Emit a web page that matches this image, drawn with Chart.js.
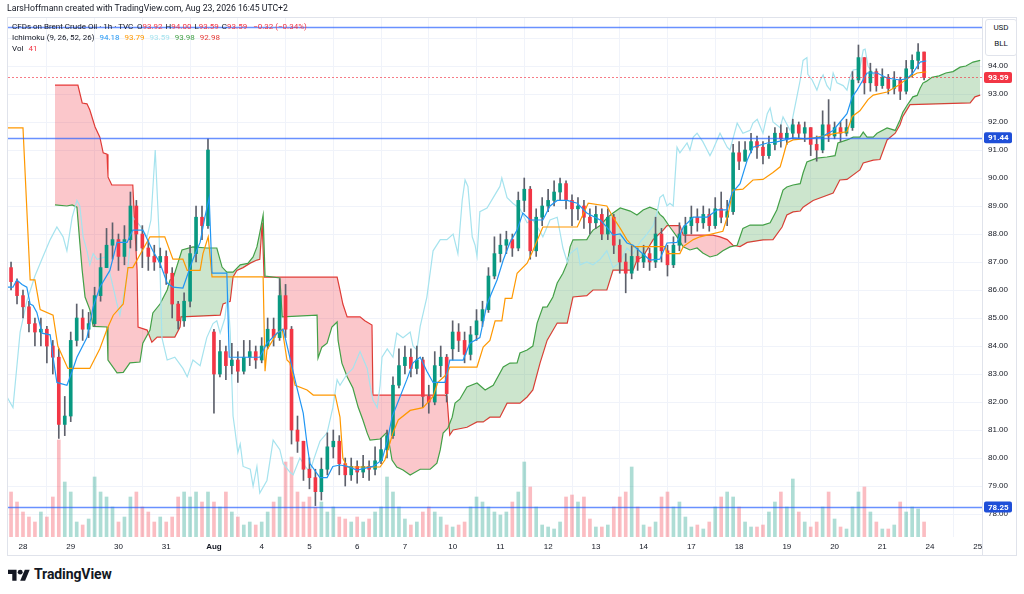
<!DOCTYPE html>
<html>
<head>
<meta charset="utf-8">
<script src="https://cdn.jsdelivr.net/npm/chart.js@4.4.1/dist/chart.umd.min.js"></script>
<style>
  body { margin: 0; background: #fff; width: 1024px; height: 594px; overflow: hidden; position: relative;
         font-family: Roboto, "Noto Sans", sans-serif; color: #131722; }
  #wrap { position: absolute; left: 0; top: 0; width: 1024px; height: 560px; }
  .hd { position: absolute; left: 12px; font-size: 8px; line-height: 11px; white-space: nowrap; }
  .r { color: #f23645; }
  .g { margin-left: 3px; }
  #unit { position: absolute; left: 985px; top: 19px; width: 30px; height: 35px; border: 1px solid #e0e3eb;
          border-radius: 3px; font-size: 8px; line-height: 16px; text-align: center; background: #fff; }
  #logo { position: absolute; left: 8px; top: 566px; display: flex; align-items: center; }
  #logo span { font-size: 14px; font-weight: 700; margin-left: 4px; letter-spacing: -0.1px; }
</style>
</head>
<body>
<div id="wrap"><canvas id="chart"></canvas></div>

<div class="hd" style="left:7px;top:3px;font-size:8.7px">LarsHoffmann created with TradingView.com, Aug 23, 2026 16:45 UTC+2</div>
<div class="hd" style="top:21px">CFDs on Brent Crude Oil · 1h · TVC</div>
<div class="hd" style="top:21px;left:137px">O<span class="r">93.92</span><span class="g">H<span class="r">94.00</span></span><span class="g">L<span class="r">93.59</span></span><span class="g">C<span class="r">93.59</span></span><span class="g r" style="margin-left:6px">−0.32 (−0.34%)</span></div>
<div class="hd" style="top:32px">Ichimoku (9, 26, 52, 26)<span class="g" style="margin-left:5px;color:#2196f3">94.18</span><span class="g" style="margin-left:5px;color:#ff9800">93.79</span><span class="g" style="margin-left:5px;color:#a6e3ee">93.59</span><span class="g" style="margin-left:5px;color:#43a047">93.98</span><span class="g" style="margin-left:5px;color:#e53935">92.98</span></div>
<div class="hd" style="top:43px">Vol<span class="r" style="margin-left:5px">41</span></div>

<div id="unit">USD<br>BLL</div>

<div id="logo">
  <svg width="22" height="14" viewBox="0 0 36 22">
    <path d="M14 22H7V11H0V4h14z" fill="#131722"/>
    <circle cx="20" cy="8" r="4" fill="#131722"/>
    <path d="M28 22h-8l7.5-18h8z" fill="#131722"/>
  </svg>
  <span>TradingView</span>
</div>

<script>
// time axis: one unit = one trading day, 0 = Jul 28
const dayLabels = ['28', '29', '30', '31', 'Aug', '4', '5', '6', '7', '10', '11', '12', '13', '14', '17', '18', '19', '20', '21', '24', '25'];
const barStart = -0.25;  // first bar
const barStep = 0.125;   // 3h bars

const closes = [
  86.3, 85.8, 85.4, 84.8, 84.5, 84.6, 84.0, 83.6, 81.2, 81.5,
  84.2, 85.0, 84.6, 84.8, 85.8, 86.8, 87.6, 87.8, 87.2, 87.8,
  89.0, 88.0, 87.5, 87.2, 87.0, 87.2, 86.6, 85.5, 84.9, 85.6,
  87.3, 88.6, 88.3, 91.0, 83.0, 83.8, 83.3, 83.5, 83.1, 83.6,
  83.8, 83.5, 84.0, 84.6, 84.3, 85.8, 84.6, 81.0, 80.6, 79.6,
  79.3, 78.8, 79.6, 80.4, 80.6, 79.8, 79.4, 79.7, 79.5, 79.7,
  79.6, 79.9, 80.3, 80.8, 82.6, 83.3, 83.6, 83.2, 83.5, 82.2,
  82.0, 83.3, 83.6, 82.3, 84.5, 84.2, 83.7, 84.4, 84.9, 85.3,
  86.5, 87.3, 87.6, 87.8, 87.5, 89.2, 89.6, 87.4, 88.6, 89.0,
  89.2, 89.5, 89.8, 89.2, 88.9, 89.0, 88.6, 88.4, 88.7, 88.0,
  88.6, 87.6, 87.0, 86.6, 87.2, 87.0, 87.3, 87.0, 88.0, 87.4,
  86.9, 87.6, 88.0, 88.3, 88.6, 88.4, 88.7, 88.3, 88.9, 88.6,
  88.8, 90.9, 90.6, 91.0, 91.3, 91.1, 90.8, 91.2, 91.6, 91.4,
  91.6, 91.9, 91.6, 91.8, 91.2, 91.0, 91.9, 91.5, 91.8, 91.6,
  91.8, 93.5, 94.3, 93.4, 93.8, 93.3, 93.6, 93.2, 93.5, 93.1,
  93.9, 94.2, 94.5, 93.59
];
const highs = [
  87.0, 86.4, 86.0, 85.6, 85.0, 85.0, 84.7, 84.2, 83.9, 82.2,
  84.5, 85.5, 85.3, 85.2, 86.1, 87.3, 88.2, 88.4, 88.0, 88.3,
  89.5, 89.2, 88.3, 87.8, 87.6, 87.5, 87.4, 86.8, 85.6, 85.9,
  87.6, 89.0, 89.0, 91.4, 84.6, 84.2, 84.0, 84.1, 83.8, 84.2,
  84.2, 84.0, 84.3, 85.0, 85.0, 86.4, 86.2, 84.7, 81.5, 80.5,
  80.0, 79.6, 80.0, 80.9, 81.0, 80.8, 80.0, 80.0, 79.9, 80.1,
  79.9, 80.4, 80.7, 81.0, 82.9, 83.9, 84.0, 83.9, 84.0, 83.6,
  82.6, 83.8, 84.0, 83.7, 84.9, 84.8, 84.5, 84.7, 85.3, 85.6,
  86.8, 87.9, 88.0, 88.1, 88.0, 89.5, 90.0, 89.7, 88.9, 89.3,
  89.6, 89.9, 90.0, 89.9, 89.4, 89.3, 89.2, 88.9, 89.0, 88.9,
  88.9, 88.7, 87.8, 87.3, 87.6, 87.5, 87.6, 87.5, 88.6, 88.2,
  87.6, 87.9, 88.4, 88.6, 89.0, 88.9, 89.0, 88.9, 89.3, 89.5,
  89.2, 91.2, 91.3, 91.3, 91.6, 91.5, 91.3, 91.5, 91.8, 91.9,
  91.8, 92.1, 92.0, 92.0, 91.8, 91.5, 92.4, 92.8, 92.0, 92.0,
  92.1, 93.8, 94.75, 94.3, 94.1, 93.9, 93.9, 93.7, 93.8, 93.6,
  94.2, 94.4, 94.8, 94.5
];
const lows = [
  86.0, 85.5, 85.0, 84.5, 84.0, 84.0, 83.4, 83.0, 80.7, 80.8,
  81.3, 84.0, 84.2, 84.3, 84.7, 85.6, 86.8, 87.1, 86.7, 86.9,
  87.5, 87.4, 86.8, 86.7, 86.7, 86.8, 86.2, 85.0, 84.6, 84.7,
  85.4, 87.0, 87.8, 88.2, 81.6, 82.9, 82.8, 83.0, 82.7, 83.0,
  83.3, 83.2, 83.4, 83.9, 84.0, 84.2, 84.3, 80.5, 80.2, 79.2,
  78.9, 78.3, 78.5, 79.4, 80.0, 79.4, 79.0, 79.2, 79.1, 79.3,
  79.2, 79.4, 79.8, 80.0, 80.7, 82.5, 83.0, 82.9, 83.0, 81.8,
  81.6, 81.9, 82.9, 82.0, 83.5, 83.8, 83.4, 83.5, 84.2, 84.7,
  85.2, 86.4, 87.0, 87.3, 87.2, 87.4, 88.8, 87.1, 87.2, 88.3,
  88.8, 89.0, 89.2, 88.9, 88.3, 88.5, 88.2, 88.0, 88.2, 87.8,
  87.8, 87.3, 86.6, 85.9, 86.4, 86.7, 86.8, 86.7, 86.8, 87.0,
  86.5, 86.8, 87.4, 87.7, 88.0, 88.1, 88.2, 88.1, 88.2, 88.4,
  88.3, 88.7, 90.3, 90.6, 90.9, 90.7, 90.5, 90.7, 91.0, 91.1,
  91.2, 91.4, 91.4, 91.3, 90.8, 90.6, 90.9, 91.3, 91.4, 91.3,
  91.5, 91.7, 93.4, 93.0, 93.1, 93.1, 93.2, 93.0, 93.0, 92.8,
  93.0, 93.6, 93.9, 93.5
];
// opens that differ from the previous close (session gaps)
const gapOpens = { 0: 86.8, 34: 84.5, 74: 83.9 };
const volumes = [
  45, 35, 25, 20, 15, 25, 20, 40, 97, 55,
  45, 15, 12, 18, 60, 45, 40, 30, 15, 20,
  40, 45, 30, 25, 15, 20, 15, 20, 40, 45,
  40, 45, 35, 45, 35, 30, 45, 25, 20, 12,
  15, 12, 15, 25, 35, 40, 75, 80, 45, 35,
  40, 30, 35, 25, 30, 20, 18, 15, 20, 15,
  18, 25, 30, 60, 45, 30, 18, 12, 15, 25,
  30, 25, 20, 12, 10, 12, 15, 30, 40, 35,
  30, 25, 22, 25, 35, 45, 75, 50, 30, 12,
  10, 8, 15, 40, 42, 35, 40, 18, 10, 10,
  12, 30, 40, 45, 70, 30, 12, 10, 15, 40,
  45, 30, 35, 20, 10, 12, 8, 15, 30, 40,
  45, 40, 30, 15, 10, 10, 12, 25, 35, 45,
  30, 58, 25, 15, 10, 15, 30, 45, 18, 10,
  8, 30, 45, 50, 25, 15, 8, 8, 12, 35,
  25, 30, 28, 15
];

// Ichimoku lines as [day, price]
const tenkan = [[-0.34,86.1],[-0.21,86.1],[-0.13,86.36],[-0.02,86.2],[0.08,86.1],[0.15,85.5],[0.21,85.45],[0.29,85.2],[0.40,84.46],[0.57,84.4],[0.63,83.6],[0.71,82.7],[0.92,82.6],[1.03,83.1],[1.13,83.6],[1.34,84.3],[1.47,85.4],[1.61,86.1],[1.82,86.7],[1.97,87.7],[2.18,87.7],[2.30,88.14],[2.51,88.14],[2.72,87.4],[2.87,86.96],[3.02,86.25],[3.14,86.1],[3.35,86.07],[3.56,87.1],[3.71,87.7],[3.81,88.6],[3.90,89.3],[3.96,86.6],[4.27,86.6],[4.32,83.6],[4.96,83.6],[5.11,84.1],[5.32,84.46],[5.45,84.6],[5.74,82.5],[5.87,81.6],[5.95,80.5],[6.01,79.8],[6.22,79.3],[6.37,79.3],[6.49,79.7],[6.64,79.75],[6.79,79.7],[7.00,79.57],[7.33,79.7],[7.52,79.93],[7.63,80.6],[7.73,81.46],[7.90,82.2],[8.04,82.8],[8.17,83.4],[8.32,83.6],[8.46,83.1],[8.59,82.7],[8.84,82.7],[8.94,83.5],[9.22,83.5],[9.36,84.1],[9.57,84.3],[9.72,85.5],[9.93,86.36],[10.06,87.07],[10.20,87.7],[10.35,88.14],[10.47,88.75],[10.62,88.5],[10.89,88.5],[11.04,89.0],[11.19,89.2],[11.40,89.2],[11.61,89.1],[11.81,88.75],[12.09,88.5],[12.23,88.25],[12.36,87.96],[12.51,88.0],[12.65,87.68],[12.78,87.6],[13.13,87.07],[13.34,87.1],[13.49,87.68],[13.70,87.7],[13.83,88.25],[14.04,88.6],[14.33,88.6],[14.54,88.86],[14.75,88.86],[14.85,89.46],[15.02,89.8],[15.17,90.64],[15.29,91.1],[15.59,91.25],[15.79,91.29],[16.13,91.43],[16.42,91.4],[16.70,91.45],[16.97,91.7],[17.26,92.3],[17.37,92.9],[17.47,93.14],[17.68,93.75],[17.89,93.75],[18.10,93.57],[18.37,93.5],[18.52,93.55],[18.64,93.75],[18.79,94.14],[18.92,94.18]];
const kijun = [[-0.34,91.79],[0,91.79],[0.15,86.36],[0.25,86.36],[0.36,85.3],[0.63,85.1],[0.73,84.0],[0.94,83.2],[1.40,83.2],[1.61,83.9],[1.76,84.6],[1.89,85.1],[2.10,85.5],[2.20,86.8],[2.30,86.8],[2.66,87.9],[2.97,87.9],[3.14,87.1],[3.35,87.1],[3.44,86.7],[3.71,86.7],[3.77,87.3],[3.88,87.9],[3.96,86.47],[5.03,86.47],[5.07,83.1],[5.11,83.86],[5.32,84.46],[5.43,84.6],[5.53,83.5],[5.59,83.4],[5.70,82.6],[5.95,82.43],[6.08,82.25],[6.54,82.25],[6.64,81.46],[6.70,80.0],[6.79,79.68],[7.48,79.68],[7.58,79.93],[7.75,80.9],[7.86,81.36],[8.11,81.7],[8.38,81.8],[8.59,82.2],[8.69,82.7],[8.88,83.0],[8.94,83.25],[9.51,83.25],[9.64,83.96],[9.78,84.2],[9.89,84.9],[10.03,84.9],[10.10,85.7],[10.24,85.7],[10.35,86.6],[10.56,86.96],[10.68,87.4],[10.89,88.25],[11.61,88.25],[11.84,89.1],[12.23,89.0],[12.36,88.6],[12.51,88.2],[12.65,87.8],[12.78,87.55],[13.45,87.55],[13.49,87.3],[13.76,87.3],[13.83,87.55],[14.04,87.8],[14.18,87.9],[14.66,88.1],[14.77,88.7],[14.87,89.57],[15.08,89.6],[15.29,89.93],[15.50,89.95],[15.71,90.2],[15.86,90.4],[15.92,90.75],[16.00,91.25],[16.13,91.36],[16.55,91.43],[17.05,91.6],[17.26,91.65],[17.37,92.2],[17.53,92.4],[17.70,92.8],[17.81,92.96],[18.10,93.07],[18.33,93.3],[18.52,93.55],[18.73,93.75],[18.92,93.79]];
const chikou = [[-0.34,82.2],[-0.21,81.8],[-0.06,84.5],[0.08,85.6],[0.25,86.5],[0.42,87.2],[0.57,87.8],[0.71,88.25],[0.84,87.9],[0.92,87.4],[1.03,88.6],[1.13,89.2],[1.19,89.0],[1.26,87.9],[1.34,87.4],[1.40,86.9],[1.47,87.3],[1.55,87.1],[1.76,87.2],[1.82,86.6],[1.97,85.5],[2.03,85.1],[2.18,86.5],[2.30,88.6],[2.45,88.3],[2.60,87.9],[2.68,88.5],[2.77,91.0],[2.85,88.0],[2.91,84.3],[3.02,83.5],[3.18,83.6],[3.35,83.2],[3.44,82.9],[3.56,83.5],[3.71,83.3],[3.85,84.3],[3.98,84.8],[4.06,84.9],[4.13,84.46],[4.23,85.0],[4.29,85.9],[4.34,84.5],[4.40,81.5],[4.44,81.0],[4.50,80.2],[4.55,80.5],[4.61,79.7],[4.76,79.6],[4.82,79.0],[4.90,79.7],[4.96,78.75],[5.11,79.2],[5.24,80.64],[5.38,80.3],[5.45,79.8],[5.59,79.5],[5.66,79.4],[5.80,80.0],[5.91,79.7],[6.01,79.5],[6.08,79.9],[6.22,80.6],[6.37,80.9],[6.49,81.8],[6.58,82.8],[6.64,82.6],[6.79,83.0],[6.91,83.2],[7.06,83.8],[7.21,83.2],[7.27,82.6],[7.33,82.07],[7.42,81.8],[7.48,82.6],[7.52,83.6],[7.63,83.9],[7.75,83.6],[7.83,84.46],[7.96,84.3],[8.11,84.5],[8.17,84.0],[8.25,83.86],[8.32,84.7],[8.46,85.75],[8.59,87.4],[8.74,87.8],[8.88,87.8],[9.01,88.0],[9.11,87.3],[9.20,89.2],[9.26,89.93],[9.32,89.7],[9.41,87.9],[9.47,87.6],[9.51,87.2],[9.57,88.8],[9.72,88.93],[9.85,89.3],[9.99,89.7],[10.03,90.0],[10.14,89.3],[10.26,89.1],[10.41,88.9],[10.56,88.4],[10.68,88.5],[10.83,88.1],[10.89,87.9],[11.04,88.5],[11.19,88.6],[11.31,87.5],[11.40,87.0],[11.46,87.3],[11.61,87.5],[11.67,86.9],[11.81,87.0],[11.94,86.9],[12.09,87.1],[12.23,87.4],[12.36,86.8],[12.51,87.0],[12.65,87.5],[12.78,87.3],[12.92,87.7],[13.07,88.0],[13.20,88.3],[13.28,88.75],[13.34,89.3],[13.41,89.4],[13.49,89.0],[13.55,89.1],[13.62,89.0],[13.70,91.1],[13.76,90.9],[13.91,91.25],[13.97,91.0],[14.04,91.46],[14.12,91.6],[14.24,91.3],[14.33,91.0],[14.39,90.8],[14.45,91.0],[14.60,91.6],[14.66,91.4],[14.75,91.1],[14.81,91.0],[14.87,91.4],[14.96,91.96],[15.08,91.6],[15.23,91.7],[15.29,91.96],[15.38,92.1],[15.50,91.6],[15.59,92.3],[15.65,92.5],[15.71,92.0],[15.86,91.8],[15.92,92.18],[16.07,91.7],[16.21,92.9],[16.28,93.5],[16.34,94.2],[16.42,94.3],[16.44,93.7],[16.53,93.5],[16.63,93.14],[16.70,93.5],[16.76,93.68],[16.84,93.3],[16.91,93.14],[16.97,93.75],[17.05,93.4],[17.18,93.3],[17.26,93.14],[17.32,93.6],[17.39,93.86],[17.53,93.9],[17.60,94.57],[17.64,94.6],[17.70,94.0],[17.78,93.8],[17.85,93.6]];
const spanA = [[0.67,89.04],[0.92,89.0],[1.03,89.04],[1.13,88.96],[1.19,87.7],[1.24,86.7],[1.30,85.75],[1.40,85.3],[1.47,84.7],[1.76,84.68],[1.78,83.5],[1.97,83.04],[2.10,83.06],[2.24,83.4],[2.45,83.43],[2.51,84.1],[2.66,84.57],[2.72,85.18],[2.87,85.5],[3.02,86.0],[3.08,86.36],[3.14,86.4],[3.33,87.43],[3.56,87.54],[3.85,87.5],[4.06,87.5],[4.17,86.82],[4.27,86.64],[4.40,86.64],[4.55,86.9],[4.71,86.95],[4.82,87.18],[4.90,87.54],[4.96,88.04],[5.03,88.68],[5.07,86.5],[5.38,86.43],[5.43,85.04],[6.16,85.1],[6.18,83.57],[6.26,83.96],[6.37,84.1],[6.47,84.68],[6.58,84.86],[6.60,84.2],[6.68,83.39],[6.79,82.9],[6.91,82.5],[7.02,81.82],[7.12,81.36],[7.21,80.89],[7.27,80.64],[7.48,80.68],[7.63,80.93],[7.73,79.93],[7.83,79.68],[7.96,79.57],[8.11,79.39],[8.32,79.6],[8.53,79.6],[8.67,79.82],[8.74,80.29],[8.80,80.89],[8.90,81.07],[8.99,81.46],[9.05,81.96],[9.15,82.1],[9.30,82.54],[9.51,82.68],[9.68,82.43],[9.85,82.6],[10.06,83.25],[10.20,83.39],[10.35,83.4],[10.41,83.75],[10.56,83.86],[10.68,84.0],[10.77,84.82],[10.89,85.39],[10.98,85.4],[11.10,85.75],[11.19,86.25],[11.31,86.6],[11.40,86.96],[11.46,87.54],[11.52,87.79],[11.81,87.8],[11.88,88.0],[11.94,88.14],[12.09,88.3],[12.23,88.57],[12.36,88.75],[12.51,88.93],[12.72,88.82],[12.86,88.68],[12.99,88.86],[13.13,88.96],[13.28,88.86],[13.34,88.7],[13.41,88.6],[13.55,88.25],[13.70,87.9],[13.83,87.54],[13.97,87.43],[14.12,87.5],[14.24,87.32],[14.39,87.18],[14.54,87.25],[14.66,87.4],[14.81,87.54],[14.96,87.6],[15.02,87.9],[15.08,88.2],[15.23,88.32],[15.50,88.32],[15.65,88.4],[15.79,88.86],[15.92,89.57],[16.00,89.68],[16.13,89.75],[16.28,89.8],[16.34,90.18],[16.42,90.57],[16.63,90.71],[16.84,90.75],[17.01,90.8],[17.07,91.25],[17.26,91.36],[17.39,91.46],[17.53,91.46],[17.60,91.64],[17.68,91.46],[17.81,91.46],[17.89,91.6],[18.10,91.79],[18.27,91.7],[18.37,92.07],[18.43,92.35],[18.52,92.6],[18.64,92.9],[18.73,92.95],[18.79,93.2],[18.85,93.39],[18.92,93.45],[19.04,93.6],[19.19,93.65],[19.33,93.75],[19.48,93.8],[19.63,93.96],[19.75,94.0],[19.90,94.14],[20.05,94.2]];
const spanB = [[0.67,93.32],[1.15,93.32],[1.24,92.68],[1.34,92.65],[1.40,92.43],[1.51,91.82],[1.61,91.46],[1.68,90.9],[1.76,90.85],[1.78,90.04],[1.86,89.75],[2.30,89.75],[2.35,88.0],[2.39,86.7],[2.41,84.68],[2.60,84.57],[2.70,84.14],[2.81,84.32],[3.18,84.32],[3.29,84.68],[3.31,85.04],[4.13,85.1],[4.19,85.5],[4.34,85.6],[4.40,86.47],[4.48,86.7],[4.61,86.8],[4.76,86.96],[4.90,87.07],[4.96,87.1],[5.01,88.4],[5.05,86.46],[6.58,86.46],[6.64,86.0],[6.70,85.5],[6.79,85.04],[7.06,85.04],[7.16,84.9],[7.31,84.75],[7.33,82.25],[8.84,82.25],[8.88,82.2],[8.94,80.82],[9.01,81.0],[9.30,81.1],[9.51,81.29],[9.64,81.29],[9.78,81.46],[9.99,81.46],[10.14,81.96],[10.41,81.96],[10.56,82.18],[10.68,82.43],[10.83,83.39],[10.98,84.21],[11.19,84.82],[11.40,84.82],[11.52,85.75],[11.81,85.8],[11.94,86.0],[12.23,86.0],[12.36,86.71],[12.78,86.71],[12.86,87.07],[12.99,87.2],[13.20,87.8],[13.41,88.14],[13.49,88.3],[13.76,88.3],[13.83,87.96],[14.45,87.96],[14.60,87.9],[14.75,87.8],[14.87,87.6],[15.02,87.55],[15.17,87.7],[15.50,87.79],[15.71,87.8],[15.90,88.25],[16.00,88.68],[16.13,88.79],[16.28,88.82],[16.34,88.96],[16.55,89.2],[16.97,89.46],[17.11,89.93],[17.26,89.95],[17.53,90.29],[17.60,90.54],[17.81,90.64],[17.95,90.66],[18.10,91.36],[18.27,91.6],[18.37,91.9],[18.43,92.2],[18.52,92.45],[18.58,92.62],[19.84,92.68],[19.94,92.9],[20.05,92.96]];

// drawn horizontal lines and last price
const levels = [95.39, 91.44, 78.25];
const lastPrice = 93.59;

const opens = closes.map((c, i) => gapOpens[i] ?? closes[i - 1]);
const barX = closes.map((c, i) => barStart + i * barStep);
const isUp = closes.map((c, i) => c >= opens[i]);
const pts = arr => arr.map(([x, y]) => ({ x, y }));

const lineStyle = { type: 'line', pointRadius: 0, borderWidth: 1.2, tension: 0, fill: false };

const overlay = {
  id: 'overlay',
  afterDatasetsDraw(chart) {
    const { ctx, chartArea: a, scales: { y } } = chart;
    ctx.save();
    ctx.beginPath();
    ctx.rect(a.left, a.top, a.width, a.height);
    ctx.clip();
    ctx.strokeStyle = 'rgba(41,98,255,0.7)';
    ctx.lineWidth = 1.3;
    levels.forEach(v => {
      const py = Math.round(y.getPixelForValue(v)) + 0.5;
      ctx.beginPath(); ctx.moveTo(a.left, py); ctx.lineTo(a.right, py); ctx.stroke();
    });
    const lp = Math.round(y.getPixelForValue(lastPrice)) + 0.5;
    ctx.setLineDash([2, 2]);
    ctx.strokeStyle = 'rgba(242,54,69,0.65)';
    ctx.lineWidth = 1;
    ctx.beginPath(); ctx.moveTo(a.left, lp); ctx.lineTo(a.right, lp); ctx.stroke();
    ctx.restore();
  },
  afterDraw(chart) {
    const { ctx, chartArea: a, scales: { y } } = chart;
    ctx.save();
    ctx.strokeStyle = '#e0e3eb';
    ctx.lineWidth = 1;
    ctx.strokeRect(7.5, a.top + 0.5, 1009, 555 - a.top);
    ctx.beginPath(); ctx.moveTo(a.right + 0.5, a.top); ctx.lineTo(a.right + 0.5, 555); ctx.stroke();

    const tag = (v, color) => {
      const py = y.getPixelForValue(v);
      ctx.fillStyle = color;
      ctx.beginPath();
      ctx.roundRect(a.right + 2, py - 5.5, 28, 11, 2);
      ctx.fill();
      ctx.fillStyle = '#fff';
      ctx.font = 'bold 8px Roboto, sans-serif';
      ctx.textAlign = 'left';
      ctx.textBaseline = 'middle';
      ctx.fillText(v.toFixed(2), a.right + 6, py + 0.5);
    };
    tag(lastPrice, '#f23645');
    tag(levels[1], '#1f4fd8');
    tag(levels[2], '#1f4fd8');
    ctx.restore();
  }
};

new Chart(document.getElementById('chart'), {
  type: 'line',
  data: {
    datasets: [
      {
        type: 'bar', label: 'Vol', yAxisID: 'yv', order: 10,
        data: volumes.map((v, i) => ({ x: barX[i], y: v })),
        backgroundColor: isUp.map(u => u ? 'rgba(8,153,129,0.33)' : 'rgba(242,54,69,0.33)'),
        barThickness: 3, grouped: false
      },
      { ...lineStyle, label: 'Leading Span B', data: pts(spanB), borderColor: '#e53935', order: 9 },
      {
        ...lineStyle, label: 'Leading Span A', data: pts(spanA), borderColor: '#43a047', order: 8,
        fill: { target: 1, above: 'rgba(67,160,71,0.27)', below: 'rgba(242,54,69,0.28)' }
      },
      { ...lineStyle, label: 'Lagging Span', data: pts(chikou), borderColor: '#a6e3ee', order: 7 },
      {
        type: 'bar', label: 'Wicks', order: 6,
        data: barX.map((x, i) => ({ x, y: [Math.min(lows[i], opens[i], closes[i]), Math.max(highs[i], opens[i], closes[i])] })),
        backgroundColor: '#5d606b', barThickness: 1, grouped: false
      },
      {
        type: 'bar', label: 'Candles', order: 5,
        data: barX.map((x, i) => ({ x, y: [opens[i], closes[i]] })),
        backgroundColor: isUp.map(u => u ? '#089981' : '#f23645'),
        barThickness: 3, grouped: false, minBarLength: 1
      },
      { ...lineStyle, label: 'Base Line', data: pts(kijun), borderColor: '#ff9800', order: 3 },
      { ...lineStyle, label: 'Conversion Line', data: pts(tenkan), borderColor: '#2196f3', order: 2 }
    ]
  },
  options: {
    responsive: true,
    maintainAspectRatio: false,
    animation: false,
    layout: { padding: { left: 8, top: 17, right: 0, bottom: 0 } },
    plugins: { legend: { display: false }, tooltip: { enabled: false } },
    scales: {
      x: {
        type: 'linear', min: -0.314, max: 20.088, offset: false,
        grid: { color: '#f0f3fa', drawTicks: false },
        border: { display: false },
        ticks: {
          stepSize: 1, autoSkip: false, maxRotation: 0, includeBounds: false, padding: 5, color: '#131722',
          font: c => ({ size: 8, weight: dayLabels[c.tick && c.tick.value] === 'Aug' ? 'bold' : 'normal' }),
          callback: v => dayLabels[v] ?? ''
        },
        afterFit: s => { s.height = 23; }
      },
      y: {
        type: 'linear', position: 'right', min: 77.18, max: 95.75,
        grid: { color: '#f0f3fa', drawTicks: false },
        border: { display: false },
        ticks: {
          stepSize: 1, includeBounds: false, padding: 6, color: '#131722', font: { size: 8 },
          callback: v => (v >= 78 && v <= 94) ? v.toFixed(2) : ''
        },
        afterFit: s => { s.width = 42; }
      },
      yv: { type: 'linear', display: false, min: 0, max: 520 }
    }
  },
  plugins: [overlay]
});
</script>
</body>
</html>
